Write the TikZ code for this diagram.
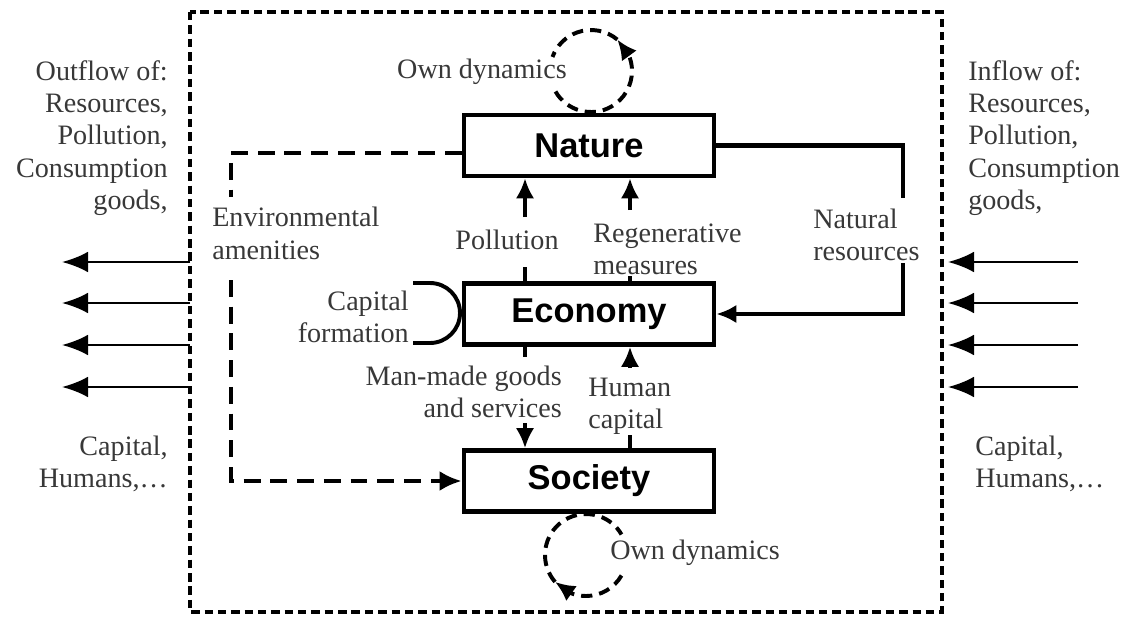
\documentclass[tikz,border=0pt]{standalone}
\usepackage{fontspec}
\setmainfont{Liberation Serif}
\newfontfamily\boxfont{Liberation Sans}
\usetikzlibrary{arrows.meta, bending}

\begin{document}
\begin{tikzpicture}[x = 0.025cm, y = 0.025cm,
	sector/.style = {draw, line width = 3.3pt, minimum width = 6.25cm, minimum height = 1.53cm, font = \boxfont\bfseries\fontsize{24.5}{28}\selectfont},
	lbl/.style = {inner sep = 0pt, text = black!78, font = \fontsize{20}{23}\selectfont},
	border/.style = {line width = 2.2pt, dash pattern = on 6pt off 3.5pt},
	amen/.style = {line width = 3pt, dash pattern = on 12pt off 7pt},
	dyn/.style = {line width = 2.8pt, dash pattern = on 8pt off 5pt},
	link/.style = {line width = 2.4pt, -{Latex[length = 5mm, width = 4.6mm]}},
	flow/.style = {line width = 2pt, -{Latex[length = 6.5mm, width = 5.2mm]}}]
	\useasboundingbox (0,0) rectangle (1131,-619);
	\draw [border] (190,-12) rectangle (942,-612);
	\node [sector] (nature) at (589,-145.5) {Nature};
	\node [sector] (economy) at (589,-314) {Economy};
	\node [sector] (society) at (589,-481) {Society};
	\node [lbl, anchor = east] (owntop) at (567,-72) {Own dynamics};
	\node [lbl, anchor = west] (ownbot) at (610,-553) {Own dynamics};
	\node [lbl, anchor = east, align = right] (outflow) at (168,-138) {Outflow of:\\Resources,\\Pollution,\\Consumption\\goods,};
	\node [lbl, anchor = west, align = left] (inflow) at (968,-138) {Inflow of:\\Resources,\\Pollution,\\Consumption\\goods,};
	\node [lbl, anchor = east, align = right] (outcap) at (168,-464) {Capital,\\Humans,\ldots};
	\node [lbl, anchor = west, align = left] (incap) at (975,-464) {Capital,\\Humans,\ldots};
	\node [lbl, anchor = west, align = left] (amenities) at (212,-233.5) {Environmental\\amenities};
	\node [lbl] (pollution) at (507,-240) {Pollution};
	\node [lbl, anchor = west, align = left] (regen) at (593,-249) {Regenerative\\measures};
	\node [lbl, anchor = west, align = left] (natres) at (813,-235) {Natural\\resources};
	\node [lbl, anchor = east, align = right] (capform) at (409,-317) {Capital\\formation};
	\node [lbl, anchor = east, align = right] (goods) at (562,-392) {Man-made goods\\and services};
	\node [lbl, anchor = west, align = left] (humcap) at (588,-406) {Human\\capital};
	\foreach \y in {262,303,345,387}{
	\coordinate (out\y) at (190,-\y);
	\coordinate (in\y) at (1078,-\y);
	\draw [flow] (out\y) -- ++(-128,0);
	\draw [flow] (in\y) -- ++(-130,0);
	}
	\coordinate (am1) at (231,-153);
	\coordinate (am2) at (231,-197);
	\coordinate (am3) at (231,-280);
	\coordinate (am4) at (231,-481);
	\draw [amen] (nature.west |- am1) -- (am1) -- (am2);
	\draw [amen, -{Latex[length = 5.5mm, width = 5mm]}] (am3) -- (am4) -- (society.west);
	\coordinate (nr1) at (903,-198);
	\coordinate (nr2) at (903,-263);
	\draw [line width = 3pt] (nature.east) -| (nr1);
	\draw [link, line width = 3pt] (nr2) |- (economy.east);
	\coordinate (po1) at (525,-267);
	\coordinate (po2) at (525,-217);
	\draw [link, -] (economy.north -| po1) -- (po1);
	\draw [link] (po2) -- (nature.south -| po2);
	\coordinate (re1) at (630,-276);
	\coordinate (re2) at (630,-210);
	\draw [link, -] (economy.north -| re1) -- (re1);
	\draw [link] (re2) -- (nature.south -| re2);
	\coordinate (mg1) at (525,-357);
	\coordinate (mg2) at (525,-423);
	\draw [link, -] (economy.south -| mg1) -- (mg1);
	\draw [link] (mg2) -- (society.north -| mg2);
	\coordinate (hc1) at (630,-368);
	\coordinate (hc2) at (630,-435);
	\draw [link] (hc1) -- (economy.south -| hc1);
	\draw [link, -] (hc2) -- (society.north -| hc2);
	\coordinate (cf) at (413,-283);
	\draw [line width = 2.8pt] (cf) -- ++(17,0) arc (90:-90:30) -- ++(-17,0);
	\coordinate (dt) at (591,-71);
	\coordinate (db) at (586,-555);
	\draw [dyn, -{Latex[length = 5mm, width = 4.6mm]}] (dt) ++(210:41) arc (210:410:41);
	\draw [dyn] (dt) ++(50:41) arc (50:160:41);
	\draw [dyn, -{Latex[length = 5mm, width = 4.6mm]}] (db) ++(-30:41) arc (-30:-139:41);
	\draw [dyn] (db) ++(221:41) arc (221:30:41);
\end{tikzpicture}
\end{document}
